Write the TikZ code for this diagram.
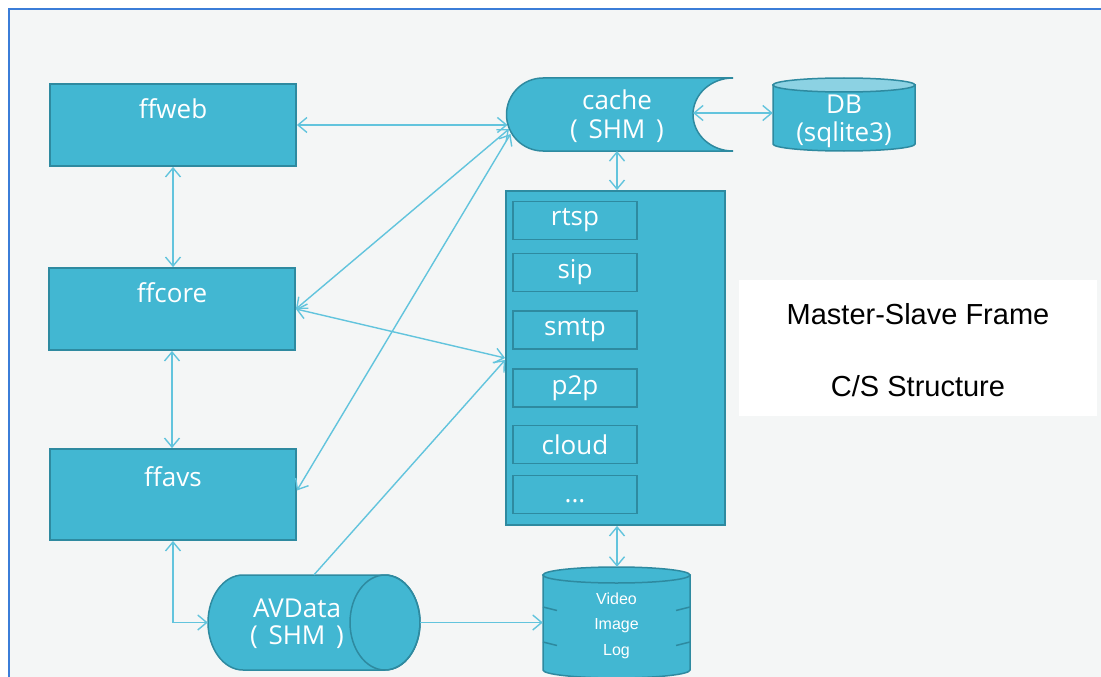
\documentclass[tikz,border=0pt]{standalone}
\usepackage{fontspec}
\setmainfont{Open Sans}
\newfontfamily\arialfont{Liberation Sans}
\usetikzlibrary{arrows.meta}
\definecolor{bgc}{HTML}{F4F6F6}
\definecolor{framec}{HTML}{3B7DD8}
\definecolor{boxfill}{HTML}{42B7D2}
\definecolor{boxline}{HTML}{2E8AA0}
\definecolor{linkc}{HTML}{62C4DD}
\definecolor{topc}{HTML}{8CD2E3}
\begin{document}
\begin{tikzpicture}[x=1pt,y=-1pt,
  box/.style={draw=boxline, fill=boxfill, line width=1.8pt, inner sep=0pt},
  shp/.style={draw=boxline, fill=boxfill, line width=1.5pt},
  ghost/.style={inner sep=0pt},
  lbl/.style={text=white, font=\fontsize{26}{31}\selectfont, inner sep=0pt},
  small/.style={text=white, font=\arialfont\fontsize{16}{19}\selectfont, inner sep=0pt},
  note/.style={text=black, font=\arialfont\fontsize{29}{34}\selectfont, inner sep=0pt},
  link/.style={draw=linkc, line width=1.4pt},
  >={Straight Barb[length=9pt,width=15pt]}
]
\useasboundingbox (0,0) rectangle (1101,677);
\fill[white] (0,0) rectangle (1101,677);
\fill[bgc] (9,9) rectangle (1101,677);
\draw[framec, line width=2pt] (9,677) -- (9,9) -- (1101,9);

% left column
\node[box, minimum width=246, minimum height=82] (ffweb) at (173,125) {};
\node[lbl] at ([yshift=-26pt]ffweb.north) {ffweb};
\node[box, minimum width=246, minimum height=82] (ffcore) at (172,309) {};
\node[lbl] at ([yshift=-26pt]ffcore.north) {ffcore};
\node[box, minimum width=246, minimum height=91] (ffavs) at (173,494.5) {};
\node[lbl] at ([yshift=-29pt]ffavs.north) {ffavs};

% cache (SHM)
\node[ghost, minimum width=226, minimum height=73] (cache) at (620,114.5) {};
\draw[shp] (543,78) -- (733,78)
  arc[start angle=270, end angle=90, x radius=40, y radius=36.5]
  -- (543,151)
  arc[start angle=90, end angle=270, radius=36.5] -- cycle;
\node[lbl] at (617,100) {cache};
\node[lbl] at (617,131) {(\hspace{4pt} SHM \hspace{4pt})};
\coordinate (cA) at (507.5,125);
\coordinate (cB) at (509,129);
\coordinate (cC) at (510.5,134);
\coordinate (cE) at (693,113);
\coordinate (cS) at (617,151);

% DB
\node[ghost, minimum width=142, minimum height=73] (db) at (844,114.5) {};
\draw[shp] (773,85) -- (773,144)
  arc[start angle=180, end angle=0, x radius=71, y radius=7]
  -- (915,85) -- cycle;
\draw[shp, fill=topc] (844,85) ellipse[x radius=71, y radius=7];
\node[lbl] at (844,104) {DB};
\node[lbl] at (844,135) {(sqlite3)};

% protocol box
\node[box, minimum width=219, minimum height=334] (big) at (615.5,358) {};
\foreach \n/\t/\y in {rtsp/rtsp/220.5, sip/sip/272.5, smtp/smtp/330, p2p/p2p/388, cloud/cloud/444.5, more/{}/494.5}{
  \node[box, minimum width=124, minimum height=38] (\n) at (575,\y) {};
  \node[lbl] at (\n) {\t};
}
\node[lbl] at (575,501) {...};

% AVData (SHM)
\node[ghost, minimum width=212, minimum height=95] (avdata) at (314,622.5) {};
\draw[shp] (243,575) -- (385,575)
  arc[start angle=-90, end angle=90, x radius=35, y radius=47.5]
  -- (243,670)
  arc[start angle=90, end angle=270, x radius=35, y radius=47.5] -- cycle;
\draw[shp, fill=none] (385,622.5) ellipse[x radius=35, y radius=47.5];
\node[lbl] at (297,608) {AVData};
\node[lbl] at (297,637) {(\hspace{4pt} SHM \hspace{4pt})};

% storage
\node[ghost, minimum width=147, minimum height=106] (store) at (616.5,620) {};
\draw[shp] (543,575) -- (543,670)
  arc[start angle=180, end angle=0, x radius=73.5, y radius=8]
  -- (690,575) -- cycle;
\draw[shp] (616.5,575) ellipse[x radius=73.5, y radius=8];
\draw[boxline, line width=1.5pt] (543,607) -- (557,610.5);
\draw[boxline, line width=1.5pt] (676,610.5) -- (690,607);
\draw[boxline, line width=1.5pt] (543,642) -- (557,645.5);
\draw[boxline, line width=1.5pt] (676,645.5) -- (690,642);
\node[small] at (616.5,599) {Video};
\node[small] at (616.5,626) {Image};
\node[small] at (616.5,652) {Log};

% note
\node[fill=white, minimum width=358, minimum height=136, inner sep=0pt] (note) at (918,348) {};
\node[note] at (918,314) {Master-Slave Frame};
\node[note] at (918,386) {C/S Structure};

% connectors
\draw[link, <->] (ffweb.east) -- (cA);
\draw[link, <->] (ffweb.south) -- (ffcore.north -| ffweb.south);
\draw[link, <->] (ffcore.south) -- (ffavs.north -| ffcore.south);
\draw[link, <->] (ffcore.east) -- (cB);
\draw[link, <->] ([yshift=4pt]ffavs.east) -- (cC);
\draw[link, <->] (ffcore.east) -- (big.west);
\draw[link, ->] (avdata.north) -- ([yshift=-2pt]big.west);
\draw[link, <->] (ffavs.south) |- (avdata.west);
\draw[link, ->] (avdata.east) -- (avdata.east -| store.west);
\draw[link, <->] (cS) -- (cS |- big.north);
\draw[link, <->] (cS |- big.south) -- (cS |- store.north);
\draw[link, <->] (cE) -- (cE -| db.west);
\end{tikzpicture}
\end{document}
